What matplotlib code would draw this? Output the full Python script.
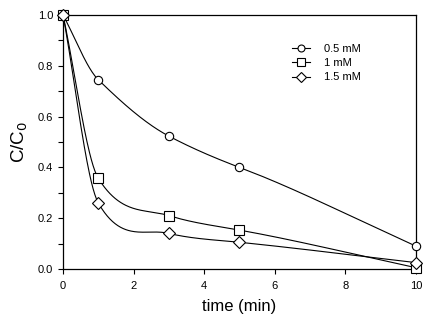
import numpy as np
import matplotlib
matplotlib.use("Agg")
import matplotlib.pyplot as plt
from matplotlib.ticker import MultipleLocator

plt.rcParams['font.family'] = ['Liberation Sans', 'DejaVu Sans']

time = [0, 1, 3, 5, 10]
c_05 = [1.0, 0.745, 0.523, 0.400, 0.090]
c_10 = [1.0, 0.357, 0.210, 0.153, 0.005]
c_15 = [1.0, 0.260, 0.140, 0.105, 0.025]
labels = ["0.5 mM", "1 mM", "1.5 mM"]
markers = ["o", "s", "D"]
msizes = [6.0, 6.5, 6.0]


def smooth_curve(x, y, n=400, scale=0.85):
    """Cardinal Hermite curve through the data points."""
    x = np.asarray(x, float)
    y = np.asarray(y, float)
    k = len(x)
    h = np.diff(x)
    d = np.zeros(k)
    d[0] = (y[1] - y[0]) / h[0]
    d[-1] = (y[-1] - y[-2]) / h[-1]
    for i in range(1, k - 1):
        d[i] = scale * (y[i + 1] - y[i - 1]) / (x[i + 1] - x[i - 1])
    xs = np.linspace(x[0], x[-1], n)
    idx = np.clip(np.searchsorted(x, xs, side='right') - 1, 0, k - 2)
    t = (xs - x[idx]) / h[idx]
    h00 = 2 * t ** 3 - 3 * t ** 2 + 1
    h10 = t ** 3 - 2 * t ** 2 + t
    h01 = -2 * t ** 3 + 3 * t ** 2
    h11 = t ** 3 - t ** 2
    ys = (h00 * y[idx] + h10 * h[idx] * d[idx] + h01 * y[idx + 1]
          + h11 * h[idx] * d[idx + 1])
    return xs, ys


fig = plt.figure(figsize=(4.33, 3.28), dpi=100)
ax = fig.add_axes([0.1455, 0.18, 0.815, 0.7744])

for yv, lab, mk, ms in zip([c_05, c_10, c_15], labels, markers, msizes):
    xs, ys = smooth_curve(time, yv)
    ax.plot(xs, ys, color='black', lw=0.8, zorder=2)
    ax.plot(time, yv, linestyle='none', marker=mk, ms=ms, mfc='white',
            mec='black', mew=0.8, zorder=3, clip_on=False)
    ax.plot([], [], color='black', lw=0.8, marker=mk, ms=ms - 1, mfc='white',
            mec='black', mew=0.8, label=lab)

ax.set_xlim(0, 10)
ax.set_ylim(0, 1.0)
ax.xaxis.set_major_locator(MultipleLocator(2))
ax.yaxis.set_major_locator(MultipleLocator(0.2))
ax.yaxis.set_minor_locator(MultipleLocator(0.1))
ax.yaxis.set_major_formatter(plt.FuncFormatter(lambda v, p: f"{v:.1f}"))
ax.tick_params(axis='both', which='both', direction='out', labelsize=8,
               width=0.8, length=3.5)
ax.tick_params(axis='x', pad=5)
for s in ax.spines.values():
    s.set_linewidth(0.9)

ax.set_xlabel("time (min)", fontsize=12, labelpad=6)
ax.set_ylabel("C/C$_0$", fontsize=13.5, labelpad=6)

ax.legend(loc='upper left', bbox_to_anchor=(0.637, 0.905), frameon=False,
          fontsize=8, handlelength=1.6, handletextpad=1.3, labelspacing=0.4,
          borderaxespad=0)

fig.savefig("out.png", dpi=100)
